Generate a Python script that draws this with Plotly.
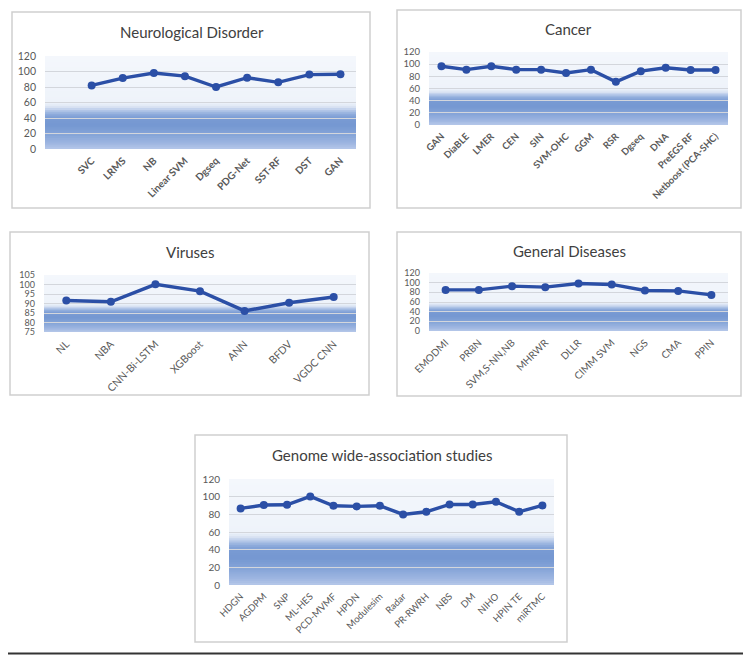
import plotly.graph_objects as go

W, H = 751, 657
OFF = 8  # page body margin offset of the figure inside the browser window

# ---------------- data ----------------
neuro_cats = ["SVC", "LRMS", "NB", "Linear SVM", "Dgseq", "PDG-Net", "SST-RF", "DST", "GAN"]
neuro_vals = [82, 91.5, 98, 94, 80, 92, 86, 96, 96.5]

cancer_cats = ["GAN", "DiaBLE", "LMER", "CEN", "SIN", "SVM-OHC", "GGM", "RSR", "Dgseq", "DNA",
               "PreEGS RF", "Netboost (PCA-SHC)"]
cancer_vals = [96.5, 91, 96.5, 91, 91, 85.5, 91, 71, 88.5, 94, 90.5, 90.5]

virus_cats = ["NL", "NBA", "CNN-Bi-LSTM", "XGBoost", "ANN", "BFDV", "VGDC CNN"]
virus_vals = [91.6, 90.9, 100.1, 96.5, 86.1, 90.4, 93.4]

general_cats = ["EMODMI", "PRBN", "SVM,S-NN,NB", "MHRWR", "DLLR", "CIMM SVM", "NGS", "CMA", "PPIN"]
general_vals = [85, 85, 92.8, 90.7, 98.4, 96.3, 83.7, 83, 74.7]

genome_cats = ["HDGN", "AGDPM", "SNP", "ML-HES", "PCD-MVMF", "HPDN", "Modulesim", "Radar",
               "PR-RWRH", "NBS", "DM", "NIHO", "HPIN TE", "miRTMC"]
genome_vals = [86.7, 90.5, 90.8, 100.3, 89.7, 89, 89.7, 79.9, 82.9, 91.2, 91.2, 94.2, 82.9, 90.1]

titles = ["Neurological Disorder", "Cancer", "Viruses", "General Diseases",
          "Genome wide-association studies"]

y_ticks_main = [0, 20, 40, 60, 80, 100, 120]
y_ticks_virus = [75, 80, 85, 90, 95, 100, 105]

# ---------------- layout helpers ----------------
def dx(px):
    return (px - OFF) / W

def dy(py):
    return 1 - (py - OFF) / H

LINE = "#2b4fa6"
TICK = "#595959"
FONT = "Lato"

panels = [
    dict(c=neuro_cats, v=neuro_vals, area=(45, 356, 56, 149), box=(12, 370, 12, 208),
         tpos=(192, 32), yt=y_ticks_main, yr=[0, 120], xr=[-1.5, 8.5], bold=True, xfs=10, yfs=10.5),
    dict(c=cancer_cats, v=cancer_vals, area=(429, 728, 52, 125), box=(397, 741, 10, 208),
         tpos=(568, 29), yt=y_ticks_main, yr=[0, 120], xr=None, bold=True, xfs=9.5, yfs=9.5),
    dict(c=virus_cats, v=virus_vals, area=(44, 356, 275, 332), box=(10, 369, 232, 395),
         tpos=(190, 252), yt=y_ticks_virus, yr=[75, 105], xr=None, bold=False, xfs=10.5, yfs=9),
    dict(c=general_cats, v=general_vals, area=(429, 728, 273, 331), box=(397, 741, 232, 396),
         tpos=(569, 251), yt=y_ticks_main, yr=[0, 120], xr=None, bold=False, xfs=10, yfs=9),
    dict(c=genome_cats, v=genome_vals, area=(229, 554, 479, 585), box=(195, 567, 435, 642),
         tpos=(382, 455), yt=y_ticks_main, yr=[0, 120], xr=None, bold=False, xfs=9.5, yfs=10),
]

stops = [
    (0.00, (0xb6, 0xc8, 0xe9)),
    (0.06, (0x9e, 0xb6, 0xe1)),
    (0.15, (0x86, 0xa5, 0xd8)),
    (0.25, (0x76, 0x98, 0xd2)),
    (0.33, (0x78, 0x9a, 0xd3)),
    (0.38, (0x92, 0xae, 0xdd)),
    (0.42, (0xbb, 0xcc, 0xea)),
    (0.46, (0xe0, 0xe8, 0xf5)),
    (0.50, (0xee, 0xf3, 0xfa)),
    (1.00, (0xf4, 0xf7, 0xfc)),
]

def grad(f):
    for (f0, c0), (f1, c1) in zip(stops[:-1], stops[1:]):
        if f0 <= f <= f1:
            t = (f - f0) / (f1 - f0) if f1 > f0 else 0
            c = [round(a + (b - a) * t) for a, b in zip(c0, c1)]
            return "rgb(%d,%d,%d)" % tuple(c)
    return "rgb(%d,%d,%d)" % stops[-1][1]

fig = go.Figure()
shapes = []
annotations = []
layout = {}

NSTRIP = 50
for i, p in enumerate(panels, start=1):
    xa = "x" if i == 1 else "x%d" % i
    ya = "y" if i == 1 else "y%d" % i
    fig.add_trace(go.Scatter(
        x=p["c"], y=p["v"], mode="lines+markers", xaxis=xa, yaxis=ya,
        line=dict(color=LINE, width=3.4),
        marker=dict(color=LINE, size=8),
        hoverinfo="skip", showlegend=False,
    ))
    x0, x1, y0, y1 = p["area"]
    layout["xaxis" if i == 1 else "xaxis%d" % i] = dict(
        domain=[dx(x0), dx(x1)], anchor=ya, type="category",
        categoryorder="array", categoryarray=p["c"],
        range=p["xr"] if p["xr"] else [-0.5, len(p["c"]) - 0.5],
        showgrid=False, zeroline=False, showline=False, ticks="",
        tickangle=-45, ticklabelstandoff=3, automargin=False,
        tickfont=dict(family=FONT, size=p["xfs"], color=TICK,
                      weight="bold" if p["bold"] else "normal"),
        fixedrange=True,
    )
    layout["yaxis" if i == 1 else "yaxis%d" % i] = dict(
        domain=[dy(y1), dy(y0)], anchor=xa, range=p["yr"],
        tickvals=p["yt"], showgrid=True, gridcolor="#d3d6dc", gridwidth=1.2,
        zeroline=False, showline=False, ticks="", ticklabelstandoff=8, automargin=False,
        tickfont=dict(family=FONT, size=p["yfs"], color=TICK), fixedrange=True,
    )
    for k in range(NSTRIP):
        f0 = k / NSTRIP
        f1 = (k + 1) / NSTRIP
        shapes.append(dict(type="rect", xref=xa + " domain", yref=ya + " domain",
                           x0=0, x1=1, y0=f0, y1=1, layer="below",
                           line=dict(width=0), fillcolor=grad((f0 + f1) / 2)))
    bx0, bx1, by0, by1 = p["box"]
    shapes.append(dict(type="rect", xref="paper", yref="paper",
                       x0=dx(bx0), x1=dx(bx1), y0=dy(by1), y1=dy(by0),
                       line=dict(color="#cfcfcf", width=1.5), layer="below"))
    tx, ty = p["tpos"]
    annotations.append(dict(text=titles[i - 1], x=dx(tx), y=dy(ty), xref="paper", yref="paper",
                            showarrow=False, xanchor="center", yanchor="middle",
                            font=dict(family=FONT, size=15, color="#404040")))

# outer frame (bottom and right edges)
shapes.append(dict(type="line", xref="paper", yref="paper", x0=0, x1=dx(749),
                   y0=dy(653.5), y1=dy(653.5), line=dict(color="#333333", width=2)))
shapes.append(dict(type="line", xref="paper", yref="paper", x0=dx(748.5), x1=dx(748.5),
                   y0=dy(653.5), y1=1, line=dict(color="#444444", width=2)))

fig.update_layout(
    width=W, height=H, margin=dict(l=0, r=0, t=0, b=0, autoexpand=False),
    paper_bgcolor="white", plot_bgcolor="rgba(0,0,0,0)",
    shapes=shapes, annotations=annotations, showlegend=False,
    **layout,
)

fig.write_html("out.html", config={"displayModeBar": False})
